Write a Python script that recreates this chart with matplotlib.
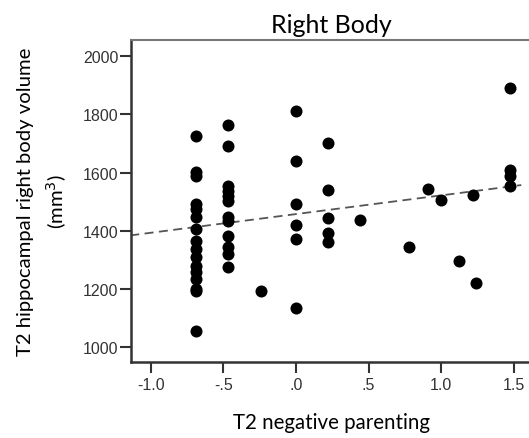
import numpy as np
import matplotlib.pyplot as plt

# T2 negative parenting vs right body volume
neg_parenting = [-0.69] * 16 + [-0.47] * 12 + [-0.24] + [0.0] * 6 + [0.22] * 5 + \
    [0.44, 0.78, 0.91, 1.0, 1.12, 1.22, 1.24] + [1.47] * 4
volume = [1726, 1603, 1589, 1491, 1474, 1446, 1405, 1365, 1337, 1308, 1279, 1257, 1234, 1200, 1194, 1056,
          1763, 1692, 1554, 1537, 1520, 1503, 1446, 1434, 1383, 1343, 1320, 1276,
          1191,
          1810, 1638, 1491, 1420, 1371, 1134,
          1701, 1541, 1443, 1391, 1362,
          1436, 1343, 1543, 1507, 1294, 1524, 1221,
          1890, 1609, 1589, 1554]

fit_intercept = 1457
fit_slope = 64.4
fit_x = [-1.14, 1.55]

xticks = [-1.0, -0.5, 0.0, 0.5, 1.0, 1.5]
xticklabels = ['-1.0', '-.5', '.0', '.5', '1.0', '1.5']
yticks = [1000, 1200, 1400, 1600, 1800, 2000]

fig = plt.figure(figsize=(5.29, 4.39), dpi=100)
ax = fig.add_axes([0.2476, 0.1731, 0.757, 0.7335])

ax.scatter(neg_parenting, volume, s=75, color='black', zorder=3, linewidths=0)
fx = np.array(fit_x)
ax.plot(fx, fit_intercept + fit_slope * fx, color='#555555', lw=1.3, ls=(0, (5, 3)), zorder=2)

ax.set_xlim(-1.135, 1.62)
ax.set_ylim(948, 2056)
ax.set_xticks(xticks)
ax.set_xticklabels(xticklabels)
ax.set_yticks(yticks)
ax.tick_params(direction='out', length=8, width=1.5, color='#333333', labelsize=11.5,
               labelcolor='#333333', pad=1)
ax.tick_params(axis='x', pad=3)
for lab in ax.get_xticklabels() + ax.get_yticklabels():
    lab.set_family('Liberation Sans')

ax.spines['left'].set_linewidth(1.8)
ax.spines['bottom'].set_linewidth(1.8)
ax.spines['left'].set_color('#333333')
ax.spines['bottom'].set_color('#333333')
ax.spines['top'].set_color('#777777')
ax.spines['top'].set_linewidth(1.5)
ax.spines['right'].set_visible(False)

ax.set_title('Right Body', fontsize=18, family='Lato', pad=6)
ax.set_xlabel('T2 negative parenting', fontsize=14.8, family='Lato', labelpad=14)
ax.set_ylabel('T2 hippocampal right body volume\n(mm$^3$)', fontsize=14.6, family='Lato',
              labelpad=10, linespacing=1.55)

fig.savefig('out.png', dpi=100)
